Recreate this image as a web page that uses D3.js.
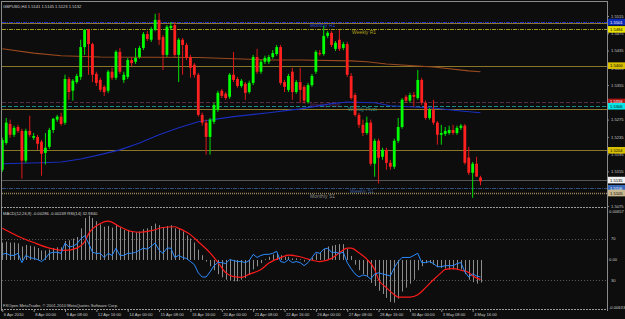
<!DOCTYPE html>
<html><head><meta charset="utf-8">
<script src="https://cdn.jsdelivr.net/npm/d3@7"></script>
<style>html,body{margin:0;padding:0;background:#0d0d0d;}svg{display:block;}</style>
</head><body>
<svg id="c" width="625" height="319"></svg>
<script>
// ---------------- DATA ----------------
const chartTitle = "GBPUSD,H4 1.5141 1.5145 1.5123 1.5132";
const subTitle = "MACD(12,26,9) -0.00286 -0.00249 RSI(14) 32.9840";
const copyright = "FXOpen MetaTrader, \u00A9 2001-2010 MetaQuotes Software Corp.";

const barOpen = [1.5159,1.5221,1.5265,1.5240,1.5258,1.5249,1.5180,1.5249,1.5233,1.5235,
1.5224,1.5198,1.5212,1.5251,1.5275,1.5282,1.5268,1.5369,1.5342,1.5362,
1.5374,1.5443,1.5483,1.5450,1.5381,1.5367,1.5351,1.5342,1.5386,1.5372,
1.5432,1.5367,1.5374,1.5413,1.5409,1.5420,1.5441,1.5473,1.5460,1.5483,
1.5506,1.5466,1.5425,1.5487,1.5494,1.5425,1.5460,1.5448,1.5420,1.5402,
1.5379,1.5286,1.5268,1.5235,1.5270,1.5298,1.5342,1.5335,1.5328,1.5379,
1.5369,1.5353,1.5358,1.5339,1.5360,1.5420,1.5386,1.5409,1.5409,1.5420,
1.5427,1.5443,1.5362,1.5344,1.5386,1.5339,1.5362,1.5351,1.5316,1.5355,
1.5386,1.5429,1.5427,1.5469,1.5476,1.5439,1.5460,1.5441,1.5450,1.5376,
1.5332,1.5286,1.5263,1.5244,1.5268,1.5173,1.5226,1.5189,1.5205,1.5175,
1.5166,1.5226,1.5258,1.5328,1.5319,1.5332,1.5325,1.5367,1.5314,1.5279,
1.5298,1.5268,1.5240,1.5242,1.5244,1.5251,1.5244,1.5256,1.5261,1.5187,
1.5152,1.5173,1.5141];
const barHigh = [1.5233,1.5279,1.5275,1.5261,1.5263,1.5254,1.5254,1.5284,1.5244,1.5240,
1.5228,1.5244,1.5256,1.5279,1.5286,1.5291,1.5379,1.5374,1.5369,1.5381,
1.5460,1.5485,1.5485,1.5453,1.5386,1.5372,1.5355,1.5390,1.5395,1.5436,
1.5441,1.5386,1.5418,1.5420,1.5441,1.5446,1.5478,1.5480,1.5490,1.5520,
1.5522,1.5471,1.5494,1.5501,1.5501,1.5464,1.5464,1.5453,1.5425,1.5406,
1.5383,1.5291,1.5275,1.5279,1.5314,1.5342,1.5346,1.5339,1.5383,1.5432,
1.5374,1.5369,1.5362,1.5365,1.5425,1.5439,1.5413,1.5423,1.5425,1.5436,
1.5448,1.5448,1.5367,1.5381,1.5395,1.5367,1.5395,1.5355,1.5360,1.5381,
1.5436,1.5436,1.5492,1.5480,1.5480,1.5457,1.5483,1.5455,1.5455,1.5383,
1.5337,1.5291,1.5275,1.5282,1.5275,1.5231,1.5231,1.5210,1.5210,1.5182,
1.5231,1.5279,1.5325,1.5332,1.5337,1.5339,1.5390,1.5372,1.5319,1.5302,
1.5321,1.5272,1.5263,1.5258,1.5261,1.5263,1.5261,1.5265,1.5265,1.5212,
1.5177,1.5189,1.5145];
const barLow = [1.5154,1.5217,1.5233,1.5235,1.5244,1.5138,1.5175,1.5235,1.5228,1.5205,
1.5145,1.5171,1.5207,1.5244,1.5270,1.5261,1.5263,1.5321,1.5319,1.5358,
1.5367,1.5425,1.5379,1.5362,1.5353,1.5339,1.5330,1.5337,1.5367,1.5367,
1.5381,1.5360,1.5369,1.5399,1.5404,1.5416,1.5436,1.5457,1.5455,1.5480,
1.5448,1.5390,1.5420,1.5483,1.5420,1.5362,1.5379,1.5413,1.5372,1.5372,
1.5282,1.5261,1.5194,1.5194,1.5265,1.5293,1.5325,1.5321,1.5323,1.5362,
1.5349,1.5349,1.5321,1.5335,1.5355,1.5381,1.5381,1.5404,1.5404,1.5416,
1.5423,1.5355,1.5339,1.5339,1.5321,1.5335,1.5314,1.5312,1.5312,1.5351,
1.5381,1.5423,1.5423,1.5464,1.5443,1.5434,1.5434,1.5436,1.5374,1.5321,
1.5282,1.5256,1.5237,1.5240,1.5168,1.5143,1.5127,1.5182,1.5159,1.5159,
1.5161,1.5221,1.5254,1.5314,1.5314,1.5305,1.5321,1.5309,1.5275,1.5275,
1.5263,1.5217,1.5217,1.5237,1.5240,1.5240,1.5240,1.5251,1.5171,1.5147,
1.5094,1.5143,1.5123];
const barClose = [1.5228,1.5268,1.5240,1.5256,1.5249,1.5180,1.5249,1.5240,1.5237,1.5219,
1.5196,1.5210,1.5251,1.5277,1.5282,1.5265,1.5369,1.5339,1.5365,1.5376,
1.5443,1.5483,1.5450,1.5379,1.5360,1.5344,1.5339,1.5386,1.5372,1.5432,
1.5386,1.5379,1.5413,1.5406,1.5418,1.5441,1.5473,1.5462,1.5485,1.5506,
1.5460,1.5425,1.5490,1.5492,1.5425,1.5460,1.5448,1.5418,1.5395,1.5379,
1.5286,1.5268,1.5235,1.5275,1.5309,1.5337,1.5330,1.5325,1.5379,1.5367,
1.5353,1.5365,1.5337,1.5360,1.5420,1.5386,1.5409,1.5418,1.5420,1.5429,
1.5443,1.5360,1.5351,1.5376,1.5339,1.5362,1.5344,1.5319,1.5355,1.5376,
1.5432,1.5427,1.5469,1.5476,1.5448,1.5453,1.5439,1.5450,1.5379,1.5325,
1.5286,1.5263,1.5244,1.5268,1.5173,1.5226,1.5187,1.5205,1.5175,1.5166,
1.5226,1.5258,1.5321,1.5319,1.5332,1.5328,1.5367,1.5314,1.5279,1.5298,
1.5268,1.5240,1.5244,1.5249,1.5251,1.5244,1.5256,1.5261,1.5175,1.5152,
1.5173,1.5143,1.5132];

// slow moving average (brown) sampled at bars
const maSlowBars = [0,8,15,25,50,68,76,89,93,98,101,110,119,122];
const maSlowValues = [1.5439,1.5429,1.5423,1.5420,1.5419,1.5413,1.5413,1.5411,1.5409,1.5404,1.5402,1.5397,1.5388,1.5386];
// faster moving average (blue)
const maFastBars = [0,10,15,20,25,30,35,40,45,50,59,68,76,84,88,95,99,104,110,117,122];
const maFastValues = [1.5173,1.5175,1.5177,1.5184,1.5194,1.5205,1.5221,1.5240,1.5256,1.5270,1.5282,1.5291,1.5300,1.5312,1.5316,1.5314,1.5307,1.5305,1.5302,1.5295,1.5291];

// horizontal levels
const levelValues = [1.5501,1.5498,1.5484,1.5400,1.5316,1.5306,1.5300,1.5204,1.5135,1.5116,1.5105];
const levelNames  = ["Monthly R1","","Weekly R1","","Monthly Pivot","Weekly Pivot","","","","Weekly S1","Monthly S1"];

// MACD main (histogram), one per bar
const macdMain = [0.0022,0.0023,0.0022,0.0022,0.0021,0.0017,0.0019,0.0018,0.0017,0.0015,
0.0012,0.0012,0.0013,0.0015,0.0016,0.0016,0.0024,0.0025,0.0027,0.0029,
0.0040,0.0053,0.0056,0.0053,0.0049,0.0045,0.0042,0.0043,0.0041,0.0044,
0.0041,0.0038,0.0038,0.0036,0.0035,0.0036,0.0039,0.0040,0.0043,0.0046,
0.0044,0.0041,0.0043,0.0044,0.0040,0.0039,0.0036,0.0031,0.0027,0.0022,
0.0013,0.0006,-0.0002,-0.0008,-0.0013,-0.0018,-0.0022,-0.0025,-0.0026,-0.0027,
-0.0027,-0.0025,-0.0023,-0.0019,-0.0012,-0.0008,-0.0004,0.0001,0.0004,0.0007,
0.0009,0.0006,0.0004,0.0004,0.0002,0.0002,0.0001,-0.0002,0.0000,0.0003,
0.0008,0.0010,0.0014,0.0017,0.0018,0.0019,0.0020,0.0020,0.0014,0.0005,
-0.0006,-0.0013,-0.0018,-0.0020,-0.0029,-0.0033,-0.0039,-0.0043,-0.0048,-0.0053,
-0.0054,-0.0049,-0.0040,-0.0035,-0.0030,-0.0025,-0.0013,-0.0008,-0.0004,-0.0004,
-0.0006,-0.0009,-0.0010,-0.0011,-0.0012,-0.0012,-0.0012,-0.0012,-0.0018,-0.0025,
-0.0028,-0.0030,-0.00286];
// MACD signal (red), sampled at bars
const signalBars = [0,4,8,12,16,19,21,22,25,27,30,33,35,38,41,44,45,48,50,53,55,57,59,61,63,66,68,71,73,76,78,81,84,86,88,89,91,93,95,96,98,100,101,104,106,108,110,112,113,115,117,119,120,122];
const signalValues = [0.0040,0.0030,0.0022,0.0015,0.0012,0.0015,0.0023,0.0033,0.0046,0.0049,0.0042,0.0036,0.0035,0.0037,0.0041,0.0042,0.0040,0.0032,0.0023,0.0009,-0.0003,-0.0016,-0.0021,-0.0022,-0.0018,-0.0012,-0.0004,0.0003,0.0006,0.0004,0.0001,-0.0002,0.0002,0.0009,0.0015,0.0015,0.0009,0.0001,-0.0012,-0.0025,-0.0035,-0.0044,-0.0047,-0.0047,-0.0044,-0.0035,-0.0025,-0.0016,-0.0012,-0.0011,-0.0013,-0.0016,-0.0020,-0.00249];
// RSI(14), one per bar
const rsiValues = [55,56,54,54,56,47,54,52,51,50,
48,51,56,57,57,56,66,62,63,65,
70,73,66,57,56,56,52,56,54,61,
54,54,56,56,57,59,61,60,63,66,
59,56,61,61,52,54,52,51,48,45,
37,33,33,38,44,47,47,46,50,49,
48,48,47,49,55,52,54,55,55,56,
58,48,47,50,47,48,47,44,47,52,
57,56,60,61,57,57,56,57,47,41,
36,33,35,34,31,36,37,36,35,34,
42,48,52,52,52,54,56,47,47,48,
46,43,43,44,44,44,46,47,38,33,
36,34,32.98];

// axes
const priceTicks = [1.5515,1.5475,1.5435,1.5395,1.5355,1.5315,1.5275,1.5235,1.5195,1.5155,1.5115,1.5075];
const timeLabels = ["6 Apr 2010","8 Apr 00:00","9 Apr 08:00","12 Apr 16:00","14 Apr 00:00","15 Apr 08:00","16 Apr 16:00","20 Apr 00:00","21 Apr 08:00","22 Apr 16:00","26 Apr 00:00","27 Apr 08:00","28 Apr 16:00","30 Apr 00:00","3 May 08:00","4 May 16:00"];
const timeLabelBars = [0,8,16,24,32,40,48,56,64,72,80,88,96,104,112,120];
const macdRange = [-0.00633,0.00657];
const rsiLevels = [70,30];

// ---------------- DRAWING ----------------
const W=625,H=319;
const FONT='"Liberation Sans", Arial, sans-serif';
const FS=4.1;
const svg=d3.select('#c');
svg.append('rect').attr('width',W).attr('height',H).attr('fill','#0d0d0d');

const plotR=607;
const x=d3.scaleLinear().domain([0,barClose.length-1]).range([2.3,480.5]);
const yP=d3.scaleLinear().domain([1.5075,1.5515]).range([206,16]);
const yM=d3.scaleLinear().domain(macdRange).range([310,208]);
const yR=d3.scaleLinear().domain([0,100]).range([311,208]);

// price axis (drawn first so the level boxes cover it, as in the terminal)
const axP=d3.axisRight(yP).tickValues(priceTicks).tickSize(2).tickFormat(d3.format('.4f'));
const gAx=svg.append('g').attr('transform',`translate(${plotR},0)`).call(axP);
gAx.select('.domain').remove();
gAx.selectAll('line').attr('stroke','#888');
gAx.selectAll('text').attr('font-family',FONT).attr('font-size',FS).attr('fill','#c8c8c8').attr('x',4);

// levels
const levelStyle=[
 {c:'#2030d0',d:'4,1,1,1',w:1,box:'#0a2ab8',tc:'#ffffff',lc:'#2a48d0'},
 {c:'#8a7628',d:null,w:1,box:null},
 {c:'#a29a1a',d:'4,1,1,1',w:1,box:'#e8e000',tc:'#000',lc:'#b0a020'},
 {c:'#8a7628',d:null,w:1,box:'#d8c000',tc:'#000'},
 {c:'#5a2a4a',d:'4,2',w:1,box:'#b01818',tc:'#fff',lc:'#6a2a5a'},
 {c:'#1a8a8a',d:'4,2',w:1,box:'#00e8e8',tc:'#000',lc:'#28a0a0'},
 {c:'#8a7628',d:null,w:1,box:null},
 {c:'#8a7628',d:null,w:1,box:'#d8c000',tc:'#000'},
 {c:'#555555',d:null,w:1,box:'#f0f0f0',tc:'#000'},
 {c:'#30507a',d:'4,1,1,1',w:1,box:'#3868b8',tc:'#fff',lc:'#3a5a9a'},
 {c:'#9a8a5a',d:'1,1',w:1.4,box:'#c8b890',tc:'#000',lc:'#8a8a8a'}
];
const labelX={"Monthly R1":310,"Weekly R1":352,"Monthly Pivot":310,"Weekly Pivot":348,"Weekly S1":350,"Monthly S1":310};

const gLev=svg.append('g');
levelValues.forEach((v,i)=>{
  const s=levelStyle[i];
  const yy=Math.round(yP(v))+0.5;
  const ln=gLev.append('line').attr('x1',2).attr('x2',plotR).attr('y1',yy).attr('y2',yy)
    .attr('stroke',s.c).attr('stroke-width',s.w);
  if(s.d) ln.attr('stroke-dasharray',s.d);
  if(levelNames[i]){
    gLev.append('text').attr('x',labelX[levelNames[i]]).attr('y',yy+4)
      .attr('font-family',FONT).attr('font-size',5).attr('fill',s.lc)
      .text(levelNames[i]);
  }
});

// moving averages
const lineGen=d3.line().x(d=>x(d[0])).y(d=>yP(d[1]));
svg.append('path').attr('d',lineGen(maSlowBars.map((b,i)=>[b,maSlowValues[i]])))
  .attr('fill','none').attr('stroke','#9a4a1e').attr('stroke-width',1.1);
svg.append('path').attr('d',lineGen(maFastBars.map((b,i)=>[b,maFastValues[i]])))
  .attr('fill','none').attr('stroke','#1a2ec0').attr('stroke-width',1.1);

// candles
const bars=barClose.map((c,i)=>({i,o:barOpen[i],h:barHigh[i],l:barLow[i],c}));
const gC=svg.append('g');
gC.selectAll('line.w').data(bars).join('line')
  .attr('x1',d=>x(d.i)).attr('x2',d=>x(d.i))
  .attr('y1',d=>yP(d.h)).attr('y2',d=>yP(d.l))
  .attr('stroke',d=>d.c>=d.o?'#00e000':'#e01818').attr('stroke-width',1);
gC.selectAll('rect').data(bars).join('rect')
  .attr('x',d=>x(d.i)-1.4).attr('width',2.8)
  .attr('y',d=>Math.min(yP(d.o),yP(d.c)))
  .attr('height',d=>Math.max(1,Math.abs(yP(d.o)-yP(d.c))))
  .attr('fill',d=>d.c>=d.o?'#00ff00':'#ff2020');

// right boxes
levelValues.forEach((v,i)=>{
  const s=levelStyle[i]; if(!s.box) return;
  const yy=yP(v);
  svg.append('rect').attr('x',608).attr('y',yy-3.3).attr('width',17).attr('height',6.6).attr('fill',s.box);
  svg.append('text').attr('x',610).attr('y',yy+1.5).attr('font-family',FONT).attr('font-size',FS)
    .attr('fill',s.tc).text(v.toFixed(4));
});

// header
svg.append('text').attr('x',3).attr('y',8).attr('font-family',FONT).attr('font-size',FS).attr('fill','#d0d0d0').text(chartTitle);

// frame
const frame=svg.append('g').attr('stroke','#8a8a8a').attr('fill','none');
frame.append('line').attr('x1',1).attr('x2',plotR).attr('y1',1.5).attr('y2',1.5);
frame.append('line').attr('x1',plotR+0.5).attr('x2',plotR+0.5).attr('y1',1).attr('y2',311);
frame.append('line').attr('x1',1.5).attr('x2',1.5).attr('y1',1).attr('y2',311);
[207.5,309.5].forEach(yy=>{
  svg.append('line').attr('x1',1).attr('x2',plotR).attr('y1',yy).attr('y2',yy)
   .attr('stroke','#9a9a9a').attr('stroke-dasharray','2,1');
});

// MACD panel
svg.append('text').attr('x',3).attr('y',215).attr('font-family',FONT).attr('font-size',FS).attr('fill','#d0d0d0').text(subTitle);
rsiLevels.forEach(v=>{
  svg.append('line').attr('x1',2).attr('x2',plotR).attr('y1',Math.round(yR(v))+0.5).attr('y2',Math.round(yR(v))+0.5)
   .attr('stroke','#5a5a5a').attr('stroke-dasharray','1,2');
});
svg.append('g').selectAll('line').data(macdMain).join('line')
  .attr('x1',(d,i)=>Math.round(x(i))+0.5).attr('x2',(d,i)=>Math.round(x(i))+0.5)
  .attr('y1',yM(0)).attr('y2',d=>yM(d))
  .attr('stroke','#9c9c9c').attr('stroke-width',0.9);
const sigLine=d3.line().x(d=>x(d[0])).y(d=>yM(d[1])).curve(d3.curveMonotoneX);
svg.append('path').attr('d',sigLine(signalBars.map((b,i)=>[b,signalValues[i]])))
  .attr('fill','none').attr('stroke','#ff1a1a').attr('stroke-width',1.2);
const rsiLine=d3.line().x((d,i)=>x(i)).y(d=>yR(d));
svg.append('path').attr('d',rsiLine(rsiValues)).attr('fill','none').attr('stroke','#2a8cff').attr('stroke-width',1);

// MACD axis labels
const macdLabels=[[macdRange[1],'0.00657',yM(macdRange[1])+5],[0,'0.00',yM(0)+1.5],[macdRange[0],'-0.00633',yM(macdRange[0])-1.5]];
macdLabels.forEach(m=>svg.append('text').attr('x',609).attr('y',m[2]).attr('font-family',FONT).attr('font-size',FS).attr('fill','#c8c8c8').text(m[1]));
rsiLevels.forEach(v=>svg.append('text').attr('x',611).attr('y',yR(v)+1.5).attr('font-family',FONT).attr('font-size',FS).attr('fill','#c8c8c8').text(v));

svg.append('text').attr('x',3).attr('y',307).attr('font-family',FONT).attr('font-size',FS).attr('fill','#c8c8c8').text(copyright);

// time axis
const axT=d3.axisBottom(x).tickValues(timeLabelBars).tickSize(2).tickFormat((d,i)=>timeLabels[i]);
const gT=svg.append('g').attr('transform','translate(0,310)').call(axT);
gT.select('.domain').remove();
gT.selectAll('line').attr('stroke','#888');
gT.selectAll('text').attr('font-family',FONT).attr('font-size',FS).attr('fill','#c8c8c8')
  .attr('text-anchor','start').attr('y',3).attr('dy','0.71em').attr('dx',1);
</script>
</body></html>
